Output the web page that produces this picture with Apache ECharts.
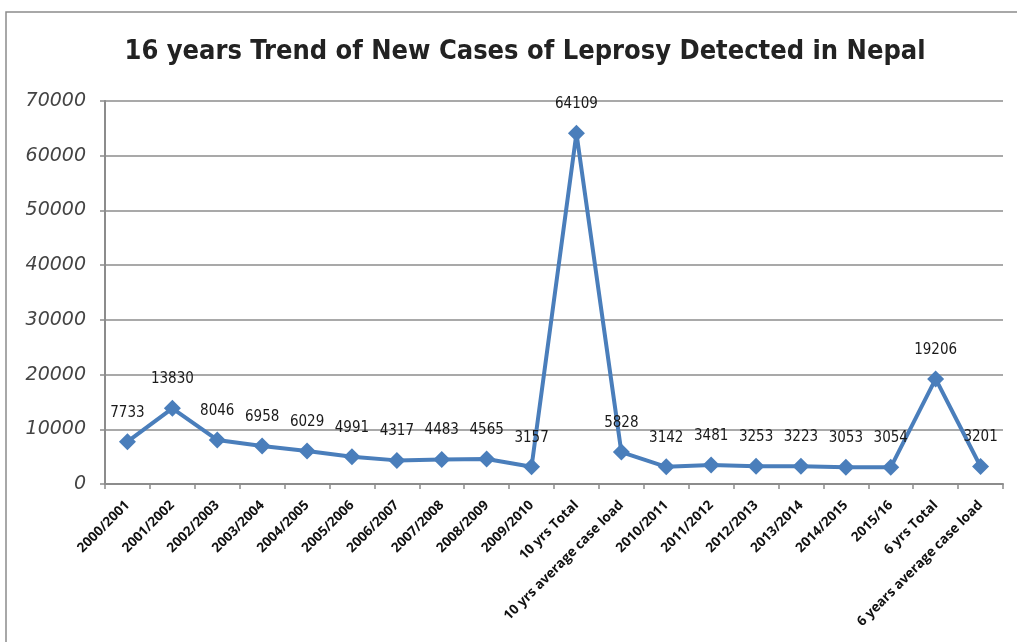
<!DOCTYPE html>
<html><head><meta charset="utf-8">
<script src="https://cdn.jsdelivr.net/npm/echarts@6/dist/echarts.min.js"></script>
<style>html,body{margin:0;padding:0;background:#fff}#c{width:1017px;height:642px}</style>
</head><body><div id="c"></div>
<script>
const categories = ["2000/2001","2001/2002","2002/2003","2003/2004","2004/2005","2005/2006","2006/2007","2007/2008","2008/2009","2009/2010","10 yrs Total","10 yrs average case load","2010/2011","2011/2012","2012/2013","2013/2014","2014/2015","2015/16","6 yrs Total","6 years average case load"];
const cases = [7733,13830,8046,6958,6029,4991,4317,4483,4565,3157,64109,5828,3142,3481,3253,3223,3053,3054,19206,3201];
const yTicks = [0,10000,20000,30000,40000,50000,60000,70000];

const chart = echarts.init(document.getElementById('c'));
chart.setOption({
  animation:false,
  backgroundColor:'#fff',
  graphic:[{type:'rect',shape:{x:6,y:12,width:1030,height:640},style:{fill:'none',stroke:'#8c8c8c',lineWidth:1.5}}],
  title:{text:'16 years Trend of New Cases of Leprosy Detected in Nepal',left:520,textAlign:'center',top:33,
    textStyle:{fontFamily:'DejaVu Sans Condensed',fontSize:27,fontWeight:'bold',color:'#222'}},
  grid:{left:105,right:14,top:101,bottom:158},
  xAxis:{type:'category',data:categories,boundaryGap:true,
    axisLine:{lineStyle:{color:'#8c8c8c',width:2}},
    axisTick:{show:true,length:5,lineStyle:{color:'#8c8c8c',width:1.5}},
    axisLabel:{interval:0,rotate:45,fontFamily:'Open Sans',fontWeight:'bold',fontSize:13.5,color:'#111',margin:19}},
  yAxis:{type:'value',min:0,max:70000,interval:10000,
    axisLine:{show:true,lineStyle:{color:'#8c8c8c',width:2}},
    axisTick:{show:true,length:5,lineStyle:{color:'#8c8c8c',width:1.5}},
    splitLine:{lineStyle:{color:'#8c8c8c',width:1.5}},
    axisLabel:{fontFamily:'DejaVu Sans',fontStyle:'oblique',fontSize:19,color:'#444',margin:19,
      formatter:v=>yTicks.includes(v)?String(v):''}},
  series:[{type:'line',data:cases,symbol:'diamond',symbolSize:17,
    lineStyle:{color:'#4a7ebb',width:4},itemStyle:{color:'#4a7ebb'},
    label:{show:true,position:'top',distance:13,fontFamily:'DejaVu Sans Condensed',fontSize:15,color:'#1a1a1a'}}]
});
</script></body></html>
